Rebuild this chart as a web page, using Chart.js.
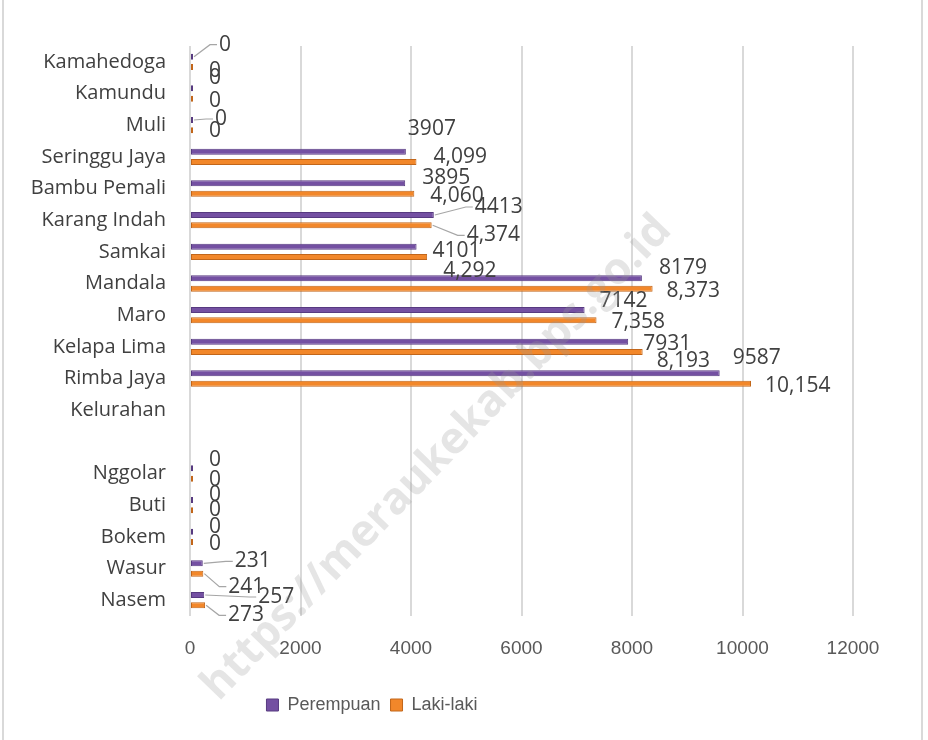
<!DOCTYPE html>
<html><head><meta charset="utf-8">
<script src="https://cdn.jsdelivr.net/npm/chart.js@4.4.1/dist/chart.umd.min.js"></script>
<style>
html,body{margin:0;padding:0;background:#fff;}
#wrap{position:relative;width:928px;height:740px;overflow:hidden;}
#frame{position:absolute;left:2px;top:0;width:921px;height:740px;border-left:2px solid #d9d9d9;border-right:2px solid #d9d9d9;box-sizing:border-box;pointer-events:none;}
canvas{position:absolute;left:0;top:0;}
</style></head><body>
<div id="wrap"><canvas id="c" width="928" height="740"></canvas><div id="frame"></div></div>
<script>
// ---- data ----
const categories = ['Kamahedoga','Kamundu','Muli','Seringgu Jaya','Bambu Pemali','Karang Indah','Samkai','Mandala','Maro','Kelapa Lima','Rimba Jaya','Kelurahan','','Nggolar','Buti','Bokem','Wasur','Nasem'];
const perempuan = [0,0,0,3907,3895,4413,4101,8179,7142,7931,9587,null,null,0,0,0,231,257];
const lakiLaki  = [0,0,0,4099,4060,4374,4292,8373,7358,8193,10154,null,null,0,0,0,241,273];
const xTicks = [0,2000,4000,6000,8000,10000,12000];
const seriesNames = ['Perempuan','Laki-laki'];
const watermarkText = 'https://meraukekab.bps.go.id';

// ---- label layout (offsets from bar end: dx, dy, leader line) ----
const offP = [[26,-12,1],[16,-10,0],[22,-1,1],[2,-23,0],[17,-5,0],[41,-8,1],[16,4,0],[17,-10,0],[15,-9,0],[15,2,0],[13,-15,0],null,null,[16,-8,0],[16,-5,0],[16,-5,0],[32,-2,1],[54,2,1]];
const offL = [[16,4,0],[16,2,0],[16,1,0],[17,-5,0],[16,2,0],[35,10,1],[16,14,0],[14,2,0],[15,2,0],[14,9,0],[14,2,0],null,null,[16,1,0],[16,0,0],[16,2,0],[25,13,1],[23,10,1]];

const PURPLE='#7450A2', PURPLE_B='#573A80', ORANGE='#F2872A', ORANGE_B='#C2661A';

const labelPlugin = {
  id:'valueLabels',
  afterDatasetsDraw(chart){
    const ctx = chart.ctx;
    const sets = [{offs:offP, fmt:v=>String(v)},{offs:offL, fmt:v=>v.toLocaleString('en-US')}];
    ctx.save();
    ctx.font = '21px "Open Sans"';
    ctx.fillStyle = '#404040';
    ctx.textAlign = 'left';
    ctx.textBaseline = 'middle';
    chart.data.datasets.forEach((ds,di)=>{
      const meta = chart.getDatasetMeta(di);
      meta.data.forEach((el,i)=>{
        const v = ds.data[i];
        if (v===null || v===undefined) return;
        const o = sets[di].offs[i]; if(!o) return;
        const bx = Math.max(el.x, el.base+2), by = el.y;
        const tx = bx + o[0], ty = by + o[1];
        if (o[2]) {
          ctx.save();
          ctx.strokeStyle = '#a6a6a6'; ctx.lineWidth = 1.2;
          ctx.beginPath();
          ctx.moveTo(bx+1, by);
          ctx.lineTo(tx-9, ty);
          ctx.lineTo(tx-2, ty);
          ctx.stroke();
          ctx.restore();
        }
        ctx.fillText(sets[di].fmt(v), tx, ty);
      });
    });
    ctx.restore();
  }
};

const watermarkPlugin = {
  id:'watermark',
  afterDraw(chart){
    const ctx = chart.ctx;
    ctx.save();
    ctx.translate(437, 458);
    ctx.rotate(-46*Math.PI/180);
    ctx.font = 'bold 44px "Open Sans"';
    ctx.fillStyle = 'rgba(150,150,150,0.25)';
    ctx.textAlign = 'center';
    ctx.textBaseline = 'middle';
    ctx.fillText(watermarkText, 0, 0);
    ctx.restore();
  }
};

const legendPos = {
  id:'legendPos',
  afterLayout(chart){
    if (chart.legend){ chart.legend.left = 0; chart.legend.right = 744; }
  }
};

new Chart(document.getElementById('c'), {
  type:'bar',
  data:{
    labels: categories,
    datasets:[
      {label:seriesNames[0], data:perempuan, backgroundColor:PURPLE, borderColor:PURPLE_B, borderWidth:1, borderSkipped:false, minBarLength:3},
      {label:seriesNames[1], data:lakiLaki, backgroundColor:ORANGE, borderColor:ORANGE_B, borderWidth:1, borderSkipped:false, minBarLength:3}
    ]
  },
  options:{
    indexAxis:'y',
    responsive:false,
    animation:false,
    devicePixelRatio:1,
    categoryPercentage:0.65,
    barPercentage:0.58,
    layout:{padding:{top:46, right:75, bottom:16, left:0}},
    scales:{
      x:{
        min:0, max:12000,
        afterBuildTicks(s){ s.ticks = xTicks.map(v=>({value:v})); },
        ticks:{callback:(v)=>String(v), color:'#595959', font:{family:'"Liberation Sans", sans-serif', size:19}, padding:21, maxRotation:0},
        grid:{color:'#d9d9d9', lineWidth:2, drawTicks:false},
        border:{display:false},
        afterFit(s){ s.height = 70; }
      },
      y:{
        ticks:{color:'#404040', font:{family:'"Open Sans"', size:20}, padding:24, autoSkip:false},
        grid:{display:false, drawTicks:false},
        border:{display:false},
        afterFit(s){ s.width = 190; }
      }
    },
    plugins:{
      legend:{position:'bottom', labels:{boxWidth:12, boxHeight:12, padding:10, color:'#595959', font:{family:'"Liberation Sans", sans-serif', size:18}}},
      tooltip:{enabled:false}
    }
  },
  plugins:[labelPlugin, watermarkPlugin, legendPos]
});
</script>
</body></html>
